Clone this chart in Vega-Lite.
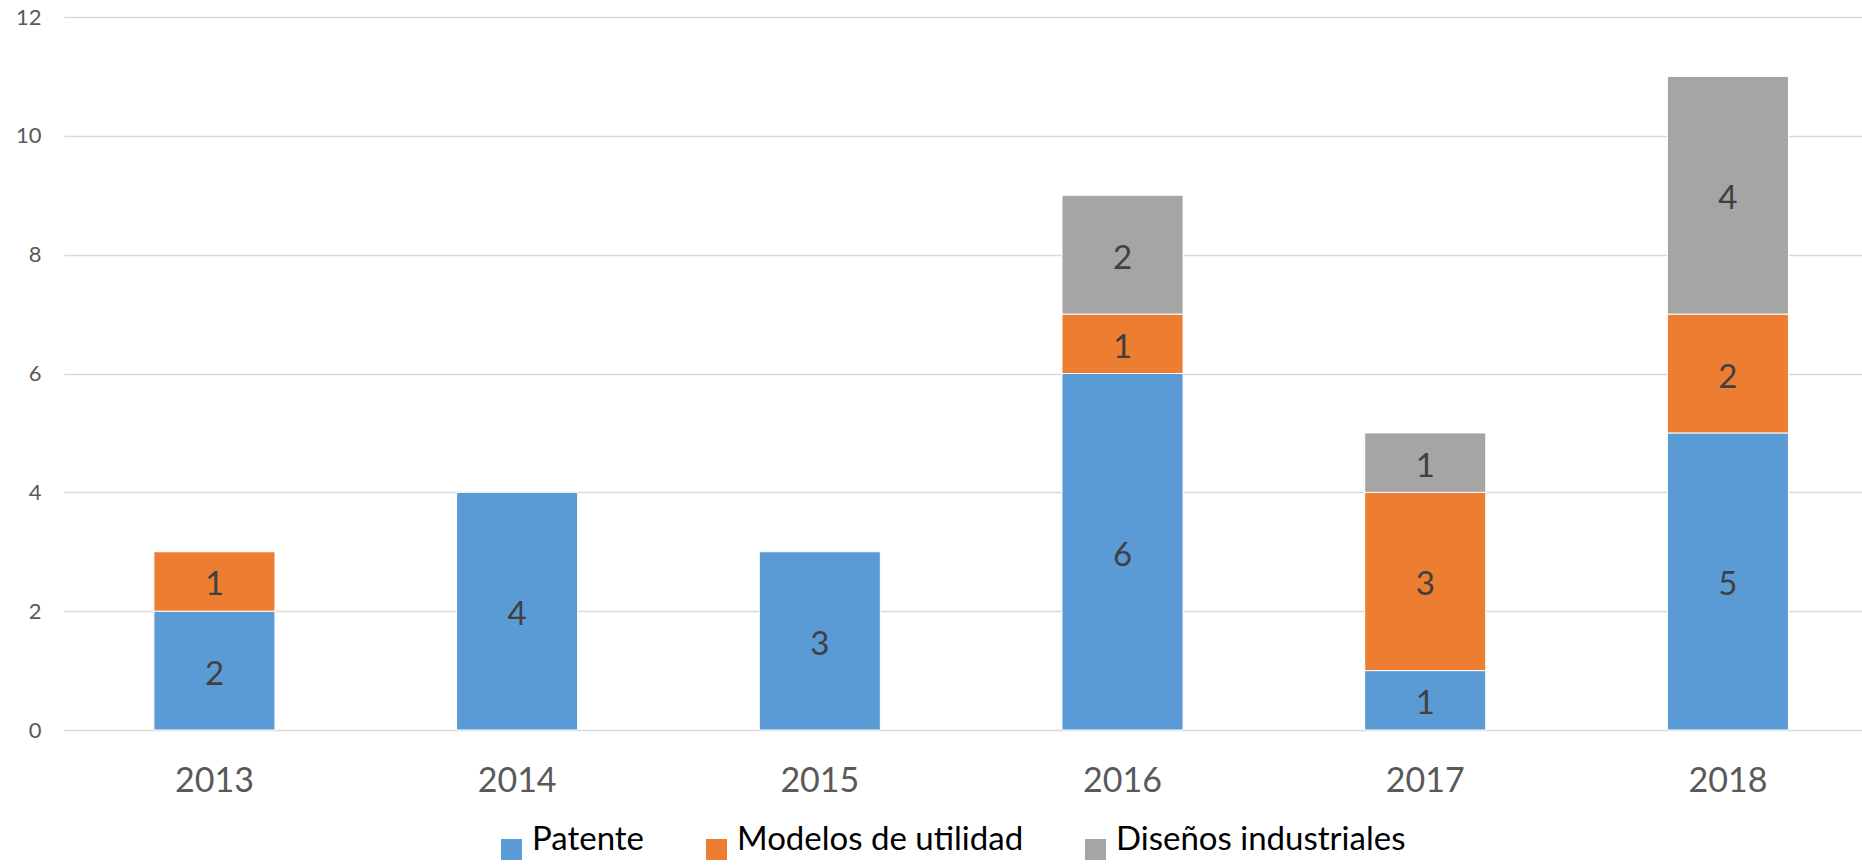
{
  "$schema": "https://vega.github.io/schema/vega-lite/v6.json",
  "width": 1798,
  "height": 713,
  "autosize": {"type": "none"},
  "padding": {"left": 64, "top": 17, "right": 0, "bottom": 135},
  "background": "white",
  "config": {
    "view": {"stroke": null},
    "font": "Lato"
  },
  "data": {
    "values": [
      {"anio": "2013", "tipo": "Patente", "orden": 1, "valor": 2},
      {"anio": "2013", "tipo": "Modelos de utilidad", "orden": 2, "valor": 1},
      {"anio": "2014", "tipo": "Patente", "orden": 1, "valor": 4},
      {"anio": "2015", "tipo": "Patente", "orden": 1, "valor": 3},
      {"anio": "2016", "tipo": "Patente", "orden": 1, "valor": 6},
      {"anio": "2016", "tipo": "Modelos de utilidad", "orden": 2, "valor": 1},
      {"anio": "2016", "tipo": "Diseños industriales", "orden": 3, "valor": 2},
      {"anio": "2017", "tipo": "Patente", "orden": 1, "valor": 1},
      {"anio": "2017", "tipo": "Modelos de utilidad", "orden": 2, "valor": 3},
      {"anio": "2017", "tipo": "Diseños industriales", "orden": 3, "valor": 1},
      {"anio": "2018", "tipo": "Patente", "orden": 1, "valor": 5},
      {"anio": "2018", "tipo": "Modelos de utilidad", "orden": 2, "valor": 2},
      {"anio": "2018", "tipo": "Diseños industriales", "orden": 3, "valor": 4}
    ]
  },
  "encoding": {
    "x": {
      "field": "anio",
      "type": "nominal",
      "title": null,
      "scale": {"paddingInner": 0.6, "paddingOuter": 0.27, "align": 0.55},
      "axis": {
        "labelAngle": 0,
        "labelFontSize": 34,
        "labelColor": "#595959",
        "labelFont": "Lato",
        "labelBaseline": "alphabetic",
        "labelPadding": 61,
        "ticks": false,
        "tickSize": 0,
        "domain": false,
        "grid": false
      }
    },
    "y": {
      "field": "valor",
      "type": "quantitative",
      "aggregate": "sum",
      "stack": "zero",
      "title": null,
      "scale": {"domain": [0, 12], "nice": false},
      "axis": {
        "values": [0, 2, 4, 6, 8, 10, 12],
        "labelFontSize": 22,
        "labelColor": "#595959",
        "labelFont": "Lato",
        "labelPadding": 23,
        "ticks": false,
        "tickSize": 0,
        "domain": false,
        "grid": true,
        "gridColor": "#D9D9D9",
        "gridWidth": 1.5
      }
    },
    "order": {"field": "orden", "type": "quantitative"}
  },
  "layer": [
    {
      "mark": {"type": "bar", "stroke": "white", "strokeWidth": 1},
      "encoding": {
        "color": {
          "field": "tipo",
          "type": "nominal",
          "scale": {
            "domain": ["Patente", "Modelos de utilidad", "Diseños industriales"],
            "range": ["#5B9BD5", "#ED7D31", "#A5A5A5"]
          },
          "legend": {
            "title": null,
            "orient": "none",
            "direction": "horizontal",
            "legendX": 431,
            "legendY": 816,
            "padding": 0,
            "symbolType": "square",
            "symbolSize": 441,
            "symbolStrokeWidth": 0,
            "labelFontSize": 33,
            "labelFont": "Lato",
            "labelColor": "#000000",
            "labelBaseline": "alphabetic",
            "labelOffset": 4,
            "columnPadding": 55,
            "labelLimit": 600
          }
        }
      }
    },
    {
      "mark": {"type": "text", "fontSize": 33, "color": "#404040", "font": "Lato", "baseline": "middle", "dy": 4},
      "encoding": {
        "y": {
          "field": "valor",
          "type": "quantitative",
          "aggregate": "sum",
          "stack": "zero",
          "bandPosition": 0.5
        },
        "text": {"field": "valor", "type": "quantitative"}
      }
    }
  ]
}
